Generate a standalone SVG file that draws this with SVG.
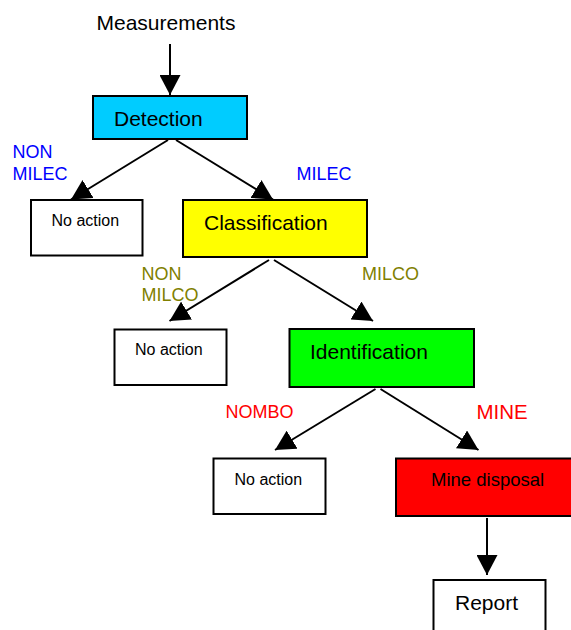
<svg xmlns="http://www.w3.org/2000/svg" width="571" height="630" viewBox="0 0 571 630">
<style>
text{font-family:"Liberation Sans",Arial,sans-serif;fill:#000}
.box{stroke:#000;stroke-width:2}
.big{font-size:21px}
.small{font-size:16px}
.lbl{font-size:18px}
.blue{fill:#0000ff}
.olive{fill:#808000}
.red{fill:#ff0000}
.conn line{stroke:#000;stroke-width:2;marker-end:url(#ah)}
</style>
<defs>
<marker id="ah" markerUnits="userSpaceOnUse" viewBox="0 0 20 21" markerWidth="20" markerHeight="21" refX="20" refY="10.5" orient="auto">
<path d="M0,0 L20,10.5 L0,21 z" fill="#000"/>
</marker>
</defs>
<rect width="571" height="630" fill="#fff"/>
<g class="conn">
<line x1="170" y1="44" x2="170" y2="95"/>
<line x1="168" y1="140" x2="71" y2="199.5"/>
<line x1="176" y1="140" x2="273" y2="199.5"/>
<line x1="269" y1="260" x2="169.5" y2="321"/>
<line x1="274" y1="260" x2="373" y2="321"/>
<line x1="375.5" y1="389" x2="275" y2="450"/>
<line x1="380.5" y1="389" x2="478.5" y2="450"/>
<line x1="487" y1="518" x2="487" y2="575"/>
</g>
<g id="measurements"><text class="big" x="96.5" y="30">Measurements</text></g>
<g id="detection"><rect class="box" x="93" y="96" width="154" height="43" fill="#00ccff"/><text class="big" x="114" y="126">Detection</text></g>
<g id="label-non-milec"><text class="lbl blue" x="12.5" y="157.5">NON</text><text class="lbl blue" x="12.5" y="180">MILEC</text></g>
<g id="label-milec"><text class="lbl blue" x="296.5" y="180">MILEC</text></g>
<g id="noaction1"><rect class="box" x="31" y="200" width="111.5" height="55.5" fill="#fff"/><text class="small" x="51.5" y="226">No action</text></g>
<g id="classification"><rect class="box" x="183" y="200" width="184" height="57" fill="#ffff00"/><text class="big" x="204" y="230">Classification</text></g>
<g id="label-non-milco"><text class="lbl olive" x="141.5" y="279.5">NON</text><text class="lbl olive" x="141.5" y="301">MILCO</text></g>
<g id="label-milco"><text class="lbl olive" x="362" y="280">MILCO</text></g>
<g id="noaction2"><rect class="box" x="114.5" y="329.5" width="112" height="55.5" fill="#fff"/><text class="small" x="135" y="355">No action</text></g>
<g id="identification"><rect class="box" x="289.5" y="329" width="184.5" height="58" fill="#00ff00"/><text class="big" x="310" y="358.5">Identification</text></g>
<g id="label-nombo"><text class="lbl red" x="225.5" y="417.5">NOMBO</text></g>
<g id="label-mine"><text class="red" style="font-size:20.5px" x="476.5" y="419">MINE</text></g>
<g id="noaction3"><rect class="box" x="213.5" y="458.5" width="112" height="55.5" fill="#fff"/><text class="small" x="234.5" y="484.5">No action</text></g>
<g id="minedisposal"><rect class="box" x="396" y="458.5" width="180" height="57.5" fill="#ff0000"/><text style="font-size:18.5px" x="431" y="486">Mine disposal</text></g>
<g id="report"><rect class="box" x="433.5" y="580" width="112" height="60" fill="#fff"/><text class="big" x="455" y="610">Report</text></g>
</svg>
